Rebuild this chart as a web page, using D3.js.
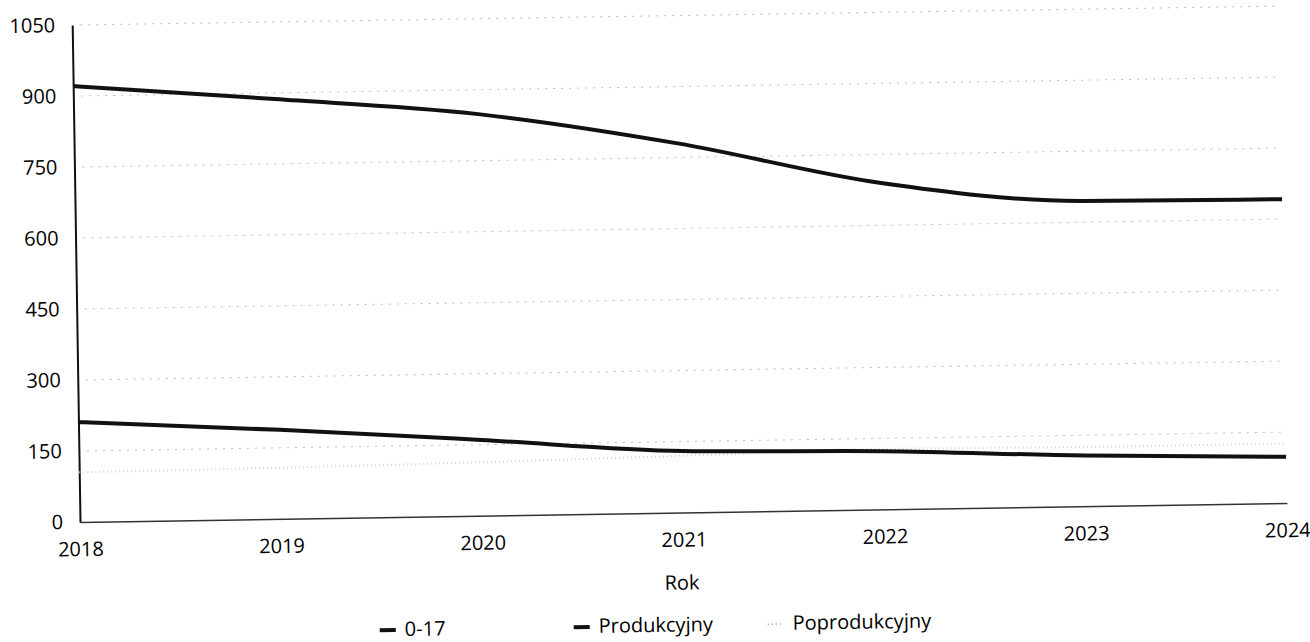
<!DOCTYPE html>
<html>
<head>
<meta charset="utf-8">
<script src="https://cdn.jsdelivr.net/npm/d3@7"></script>
<style>
  body { margin: 0; background: #fff; }
  svg { display: block; }
  text { font-family: 'Open Sans', sans-serif; fill: #000; }
</style>
</head>
<body>
<svg id="chart" width="1310" height="642"></svg>
<script>
var years = [2018, 2019, 2020, 2021, 2022, 2023, 2024];
var yTicks = [0, 150, 300, 450, 600, 750, 900, 1050];

var youth = [211, 188, 160, 130, 123, 107, 98];
var working = [921, 887, 849, 780, 690, 645, 642];
var retired = [105, 108, 113, 120, 128, 125, 126];

var seriesNames = ['0-17', 'Produkcyjny', 'Poprodukcyjny'];

var series = [
  { name: seriesNames[0], values: youth, color: '#111', width: 4, dash: null },
  { name: seriesNames[1], values: working, color: '#111', width: 4, dash: null },
  { name: seriesNames[2], values: retired, color: '#d6d6d6', width: 2, dash: '1,3' }
];

var plotLeft = 80, plotRight = 1287, plotTop = 25, plotBottom = 522;

var svg = d3.select('#chart');

// the reference is a slightly tilted scan, so tilt everything a bit
var root = svg.append('g')
  .attr('transform', 'rotate(-0.9,' + plotLeft + ',' + plotBottom + ')');

var x = d3.scaleLinear().domain([2018, 2024]).range([plotLeft, plotRight]);
var y = d3.scaleLinear().domain([0, 1050]).range([plotBottom, plotTop]);

// grid
root.append('g')
  .selectAll('line')
  .data(yTicks.slice(1))
  .enter()
  .append('line')
  .attr('x1', plotLeft + 8)
  .attr('x2', plotRight)
  .attr('y1', function (d) { return y(d); })
  .attr('y2', function (d) { return y(d); })
  .attr('stroke', '#bbb')
  .attr('stroke-width', 1)
  .attr('stroke-dasharray', '2,6');

// axes
var xAxis = root.append('g')
  .attr('transform', 'translate(0,' + plotBottom + ')')
  .call(d3.axisBottom(x).tickValues(years).tickFormat(d3.format('d')).tickSize(0).tickPadding(20));

xAxis.select('.domain').attr('stroke', '#333').attr('stroke-width', 1.5);
xAxis.selectAll('text').attr('font-size', 20).attr('font-family', "'Open Sans', sans-serif").attr('fill', '#000');

var yAxis = root.append('g')
  .attr('transform', 'translate(' + plotLeft + ',0)')
  .call(d3.axisLeft(y).tickValues(yTicks).tickFormat(d3.format('d')).tickSize(0).tickPadding(17));

yAxis.select('.domain').attr('stroke', '#111').attr('stroke-width', 2);
yAxis.selectAll('text').attr('font-size', 20).attr('font-family', "'Open Sans', sans-serif").attr('fill', '#000');

// lines
var line = d3.line()
  .x(function (d, i) { return x(years[i]); })
  .y(function (d) { return y(d); })
  .curve(d3.curveMonotoneX);

root.append('g')
  .selectAll('path')
  .data(series.slice().reverse())
  .enter()
  .append('path')
  .attr('d', function (d) { return line(d.values); })
  .attr('fill', 'none')
  .attr('stroke', function (d) { return d.color; })
  .attr('stroke-width', function (d) { return d.width; })
  .attr('stroke-dasharray', function (d) { return d.dash; });

// x title
root.append('text')
  .attr('x', 681)
  .attr('y', 599)
  .attr('text-anchor', 'middle')
  .attr('font-size', 20)
  .text('Rok');

// legend
var legendX = [378, 572, 766];
var legend = root.append('g')
  .selectAll('g')
  .data(series)
  .enter()
  .append('g')
  .attr('transform', function (d, i) { return 'translate(' + legendX[i] + ',634)'; });

legend.append('line')
  .attr('x1', 0)
  .attr('x2', 16)
  .attr('y1', 1)
  .attr('y2', 1)
  .attr('stroke', function (d) { return d.dash ? '#999' : d.color; })
  .attr('stroke-width', function (d) { return d.dash ? 1.5 : 4; })
  .attr('stroke-dasharray', function (d) { return d.dash; });

legend.append('text')
  .attr('x', 25)
  .attr('y', 7)
  .attr('font-size', 20)
  .text(function (d) { return d.name; });
</script>
</body>
</html>
